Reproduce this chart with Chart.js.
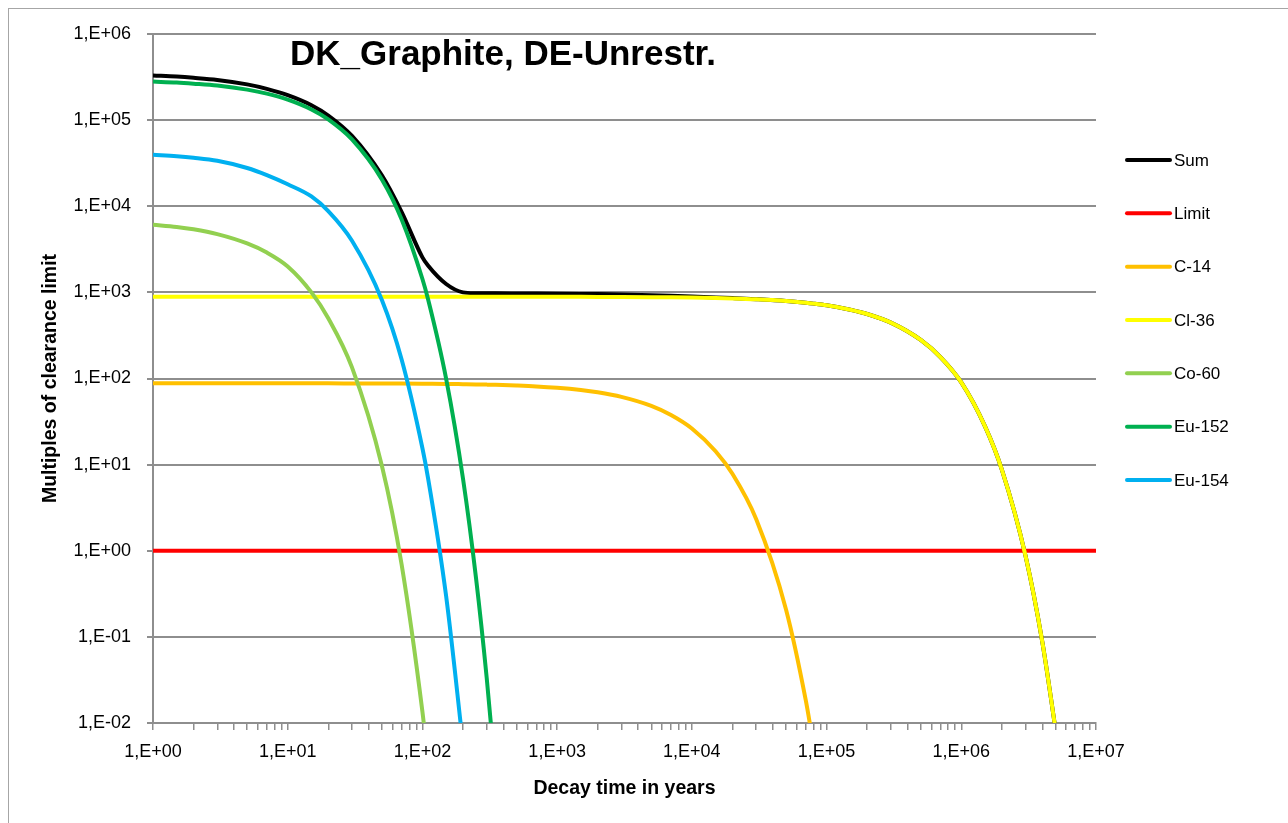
<!DOCTYPE html>
<html>
<head>
<meta charset="utf-8">
<script src="https://cdn.jsdelivr.net/npm/chart.js@4.4.0/dist/chart.umd.min.js"></script>
<style>
html,body{margin:0;padding:0;background:#fff;}
#wrap{width:1288px;height:823px;position:relative;overflow:hidden;}
canvas{display:block;}
</style>
</head>
<body>
<div id="wrap"><canvas id="c" width="1288" height="823"></canvas></div>
<script>
// ---- data (decay time in years) ----
const times = [1, 1.5, 2, 3, 5, 7, 10, 15, 20, 30, 50, 70, 100, 110, 150, 200, 250, 300, 350, 500, 700,
  1000, 1500, 2000, 3000, 5000, 7000, 1e4, 1.5e4, 2e4, 3e4, 5e4, 7e4, 8e4, 1e5, 1.5e5, 2e5, 3e5, 5e5, 7e5,
  1e6, 1.5e6, 2e6, 3e6, 4e6, 5e6, 7e6, 1e7];

const sumValues = [330000, 320000, 310000, 293000, 260000, 231000, 195000, 149000, 113000, 65500, 22800, 8600,
  2550, 2050, 1250, 1000, 978, 975, 974.4, 971.8, 969.9,
  966, 960.4, 955.1, 945.2, 928.1, 913.7, 896.3, 874.3, 857.8, 832.3, 793.2, 757, 740, 707, 629, 561, 445, 280, 177,
  90, 27.8, 8.76, 0.869, 0.0863, 0.00856, null, null];

const limitValues = [1, 1, 1, 1, 1, 1, 1, 1, 1, 1, 1, 1, 1, 1, 1, 1, 1, 1, 1, 1, 1,
  1, 1, 1, 1, 1, 1, 1, 1, 1, 1, 1, 1, 1, 1, 1, 1, 1, 1, 1,
  1, 1, 1, 1, 1, 1, 1, 1];

const c14Values = [88, 88, 88, 88, 88, 88, 88, 88, 87.9, 87.7, 87.5, 87.3, 87.0, 86.9, 86.5, 85.9, 85.4, 84.9, 84.4, 82.8, 80.9,
  78.0, 73.4, 69.1, 61.2, 48.1, 37.7, 26.3, 14.3, 7.83, 2.34, 0.208, 0.0185, 0.00552, null, null, null, null, null, null,
  null, null, null, null, null, null, null, null];

const cl36Values = [890, 890, 890, 890, 890, 890, 890, 890, 890, 890, 890, 890, 890, 890, 890, 890, 890, 890, 890, 889, 889,
  888, 887, 886, 884, 880, 876, 870, 860, 850, 830, 793, 757, 740, 707, 629, 561, 445, 280, 177,
  90, 27.8, 8.76, 0.869, 0.0863, 0.00856, null, null];

const co60Values = [6100, 5750, 5400, 4750, 3700, 2900, 2000, 1000, 501, 134.5, 9.69, 0.698, 0.0135, 0.00362, null, null, null, null, null, null, null,
  null, null, null, null, null, null, null, null, null, null, null, null, null, null, null, null, null, null, null,
  null, null, null, null, null, null, null, null];

const eu152Values = [280000, 273000, 265000, 252000, 226000, 203000, 173000, 133000, 102000, 59700, 20500, 7070, 1430, 838, 99.3, 6.91, 0.480, 0.0334, 0.00232, null, null,
  null, null, null, null, null, null, null, null, null, null, null, null, null, null, null, null, null, null, null,
  null, null, null, null, null, null, null, null];

const eu154Values = [39500, 38000, 36500, 33700, 27800, 23000, 18000, 13000, 8770, 3970, 815, 167, 15.5, 7.03, 0.296, 0.00564, null, null, null, null, null,
  null, null, null, null, null, null, null, null, null, null, null, null, null, null, null, null, null, null, null,
  null, null, null, null, null, null, null, null];

const seriesNames = ['Sum', 'Limit', 'C-14', 'Cl-36', 'Co-60', 'Eu-152', 'Eu-154'];
const seriesValues = [sumValues, limitValues, c14Values, cl36Values, co60Values, eu152Values, eu154Values];
const seriesColors = ['#000000', '#FF0000', '#FFC000', '#FFFF00', '#92D050', '#00B050', '#00B0F0'];

const xTickValues = [1, 10, 100, 1000, 10000, 100000, 1000000, 10000000];
const xTickLabels = ['1,E+00', '1,E+01', '1,E+02', '1,E+03', '1,E+04', '1,E+05', '1,E+06', '1,E+07'];
const yTickValues = [0.01, 0.1, 1, 10, 100, 1000, 10000, 100000, 1000000];
const yTickLabels = ['1,E-02', '1,E-01', '1,E+00', '1,E+01', '1,E+02', '1,E+03', '1,E+04', '1,E+05', '1,E+06'];

const chartTitle = 'DK_Graphite, DE-Unrestr.';
const xTitle = 'Decay time in years';
const yTitle = 'Multiples of clearance limit';

// ---- minor x ticks (1..9 per decade) ----
const xAllTicks = [];
for (let k = 0; k < xTickValues.length - 1; k++) {
  for (let d = 1; d <= 9; d++) xAllTicks.push(d * xTickValues[k]);
}
xAllTicks.push(xTickValues[xTickValues.length - 1]);

const FONT = "'Liberation Sans', Arial, sans-serif";
Chart.defaults.font.family = FONT;
Chart.defaults.color = '#000';

const GRID = '#8e8e8e';

const datasets = seriesNames.map((name, i) => ({
  label: name,
  data: times.map((t, j) => ({x: t, y: seriesValues[i][j]})),
  borderColor: seriesColors[i],
  backgroundColor: seriesColors[i],
  borderWidth: 4,
  pointRadius: 0,
  pointHoverRadius: 0,
  fill: false,
  cubicInterpolationMode: 'monotone',
  spanGaps: false,
  clip: 0,
  order: seriesNames.length - 1 - i
}));

const framePlugin = {
  id: 'frame',
  beforeDraw(chart) {
    const ctx = chart.ctx;
    ctx.save();
    ctx.fillStyle = '#fff';
    ctx.fillRect(0, 0, chart.width, chart.height);
    ctx.strokeStyle = '#a6a6a6';
    ctx.lineWidth = 1;
    ctx.strokeRect(8.5, 8.5, 1400, 1000);
    ctx.restore();
  }
};

const overlayPlugin = {
  id: 'overlay',
  afterDraw(chart) {
    const ctx = chart.ctx;
    ctx.save();
    // title
    ctx.fillStyle = '#000';
    ctx.font = "bold 35px " + FONT;
    ctx.textAlign = 'center';
    ctx.textBaseline = 'alphabetic';
    ctx.fillText(chartTitle, 503, 65);
    // legend
    chart.data.datasets.forEach((ds, i) => {
      const y = 160 + i * 53.33;
      ctx.beginPath();
      ctx.strokeStyle = ds.borderColor;
      ctx.lineWidth = 4;
      ctx.lineCap = 'round';
      ctx.moveTo(1127, y);
      ctx.lineTo(1170, y);
      ctx.stroke();
      ctx.fillStyle = '#000';
      ctx.font = "17px " + FONT;
      ctx.textAlign = 'left';
      ctx.textBaseline = 'middle';
      ctx.fillText(ds.label, 1174, y + 1);
    });
    ctx.restore();
  }
};

new Chart(document.getElementById('c'), {
  type: 'line',
  data: {datasets},
  options: {
    responsive: false,
    animation: false,
    devicePixelRatio: 1,
    layout: {padding: {left: 0, right: 192, top: 34, bottom: 0}},
    plugins: {
      legend: {display: false},
      title: {display: false},
      tooltip: {enabled: false}
    },
    scales: {
      x: {
        type: 'logarithmic',
        position: 'bottom',
        min: 1,
        max: 1e7,
        afterBuildTicks: (s) => { s.ticks = xAllTicks.map(v => ({value: v})); },
        afterFit: (s) => { s.height = 100; },
        ticks: {
          autoSkip: false, maxRotation: 0, minRotation: 0, padding: 11,
          color: '#000', font: {size: 18},
          callback: (v) => { const k = xTickValues.indexOf(v); return k >= 0 ? xTickLabels[k] : ''; }
        },
        grid: {drawOnChartArea: false, drawTicks: true, tickLength: 7, color: GRID, lineWidth: 1.5},
        border: {display: true, color: GRID, width: 2},
        title: {display: true, text: xTitle, color: '#000', font: {size: 19.5, weight: 'bold'}, padding: {top: 0, bottom: 23}}
      },
      y: {
        type: 'logarithmic',
        position: 'left',
        min: 0.01,
        max: 1e6,
        afterBuildTicks: (s) => { s.ticks = yTickValues.map(v => ({value: v})); },
        afterFit: (s) => { s.width = 153; },
        ticks: {
          autoSkip: false, padding: 16, color: '#000', font: {size: 18},
          callback: (v) => { const k = yTickValues.indexOf(v); return k >= 0 ? yTickLabels[k] : ''; }
        },
        grid: {drawTicks: true, tickLength: 6, color: GRID, lineWidth: 2},
        border: {display: true, color: GRID, width: 2},
        title: {display: true, text: yTitle, color: '#000', font: {size: 19.5, weight: 'bold'}, padding: {top: 39, bottom: 0}}
      }
    }
  },
  plugins: [framePlugin, overlayPlugin]
});
</script>
</body>
</html>
